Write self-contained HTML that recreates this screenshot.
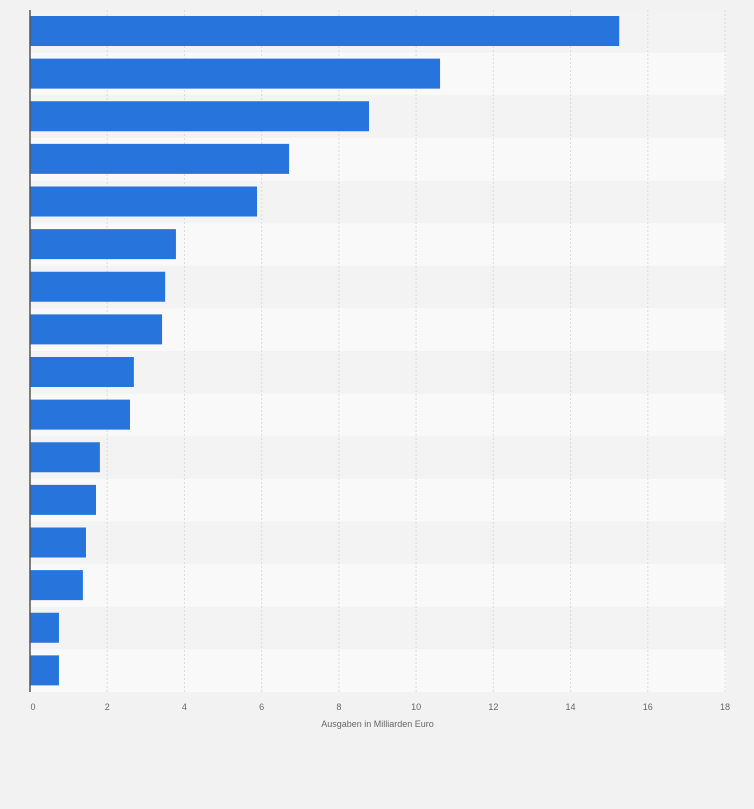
<!DOCTYPE html>
<html><head><meta charset="utf-8"><style>
html,body{margin:0;padding:0;background:#f2f2f2;width:754px;height:809px;overflow:hidden}
svg{display:block;font-family:"Liberation Sans",sans-serif}
</style></head><body>
<svg id="chart" width="754" height="809"></svg>
<script>
const categories=["K1","K2","K3","K4","K5","K6","K7","K8","K9","K10","K11","K12","K13","K14","K15","K16"];
const values=[15.26,10.62,8.78,6.71,5.88,3.78,3.5,3.42,2.69,2.59,1.81,1.71,1.45,1.37,0.75,0.75];
const ticks=[0,2,4,6,8,10,12,14,16,18];
const axisTitle="Ausgaben in Milliarden Euro";
const svg=document.getElementById('chart');
const NS="http://www.w3.org/2000/svg";
const L=30,R=725,T=10,B=692,xmax=18;
const x=v=>L+(v/xmax)*(R-L);
const rowH=(B-T)/categories.length;
const y=i=>T+i*rowH;
function mk(tag,attrs){const e=document.createElementNS(NS,tag);for(const k in attrs)e.setAttribute(k,attrs[k]);svg.appendChild(e);return e;}
categories.forEach((c,i)=>{
  const r=mk('rect',{x:L,y:y(i),width:R-L+1,height:rowH,fill:i%2?'#f9f9f9':'#f3f3f3'});
  
  
});
ticks.forEach(t=>{
  if(t>0){const g=mk('line',{x1:x(t),x2:x(t),y1:T,y2:B,stroke:'#dcdcdc','stroke-width':1,'stroke-dasharray':'2,2'});
  
  }
  const lb=mk('text',{x:t===0?x(t)+3:x(t),y:710,'text-anchor':'middle','font-size':9,fill:'#666'});
  lb.textContent=t;
  
  
});
values.forEach((v,i)=>{
  const b=mk('rect',{x:L,y:y(i)+6,width:x(v)-L,height:30,fill:'#2775dc'});
  
  
});
const ax=mk('line',{x1:L,x2:L,y1:T,y2:B,stroke:'#555','stroke-width':1.5});


const tt=mk('text',{x:(L+R)/2,y:727,'text-anchor':'middle','font-size':9,fill:'#666'});
tt.textContent=axisTitle;


</script>
</body></html>
